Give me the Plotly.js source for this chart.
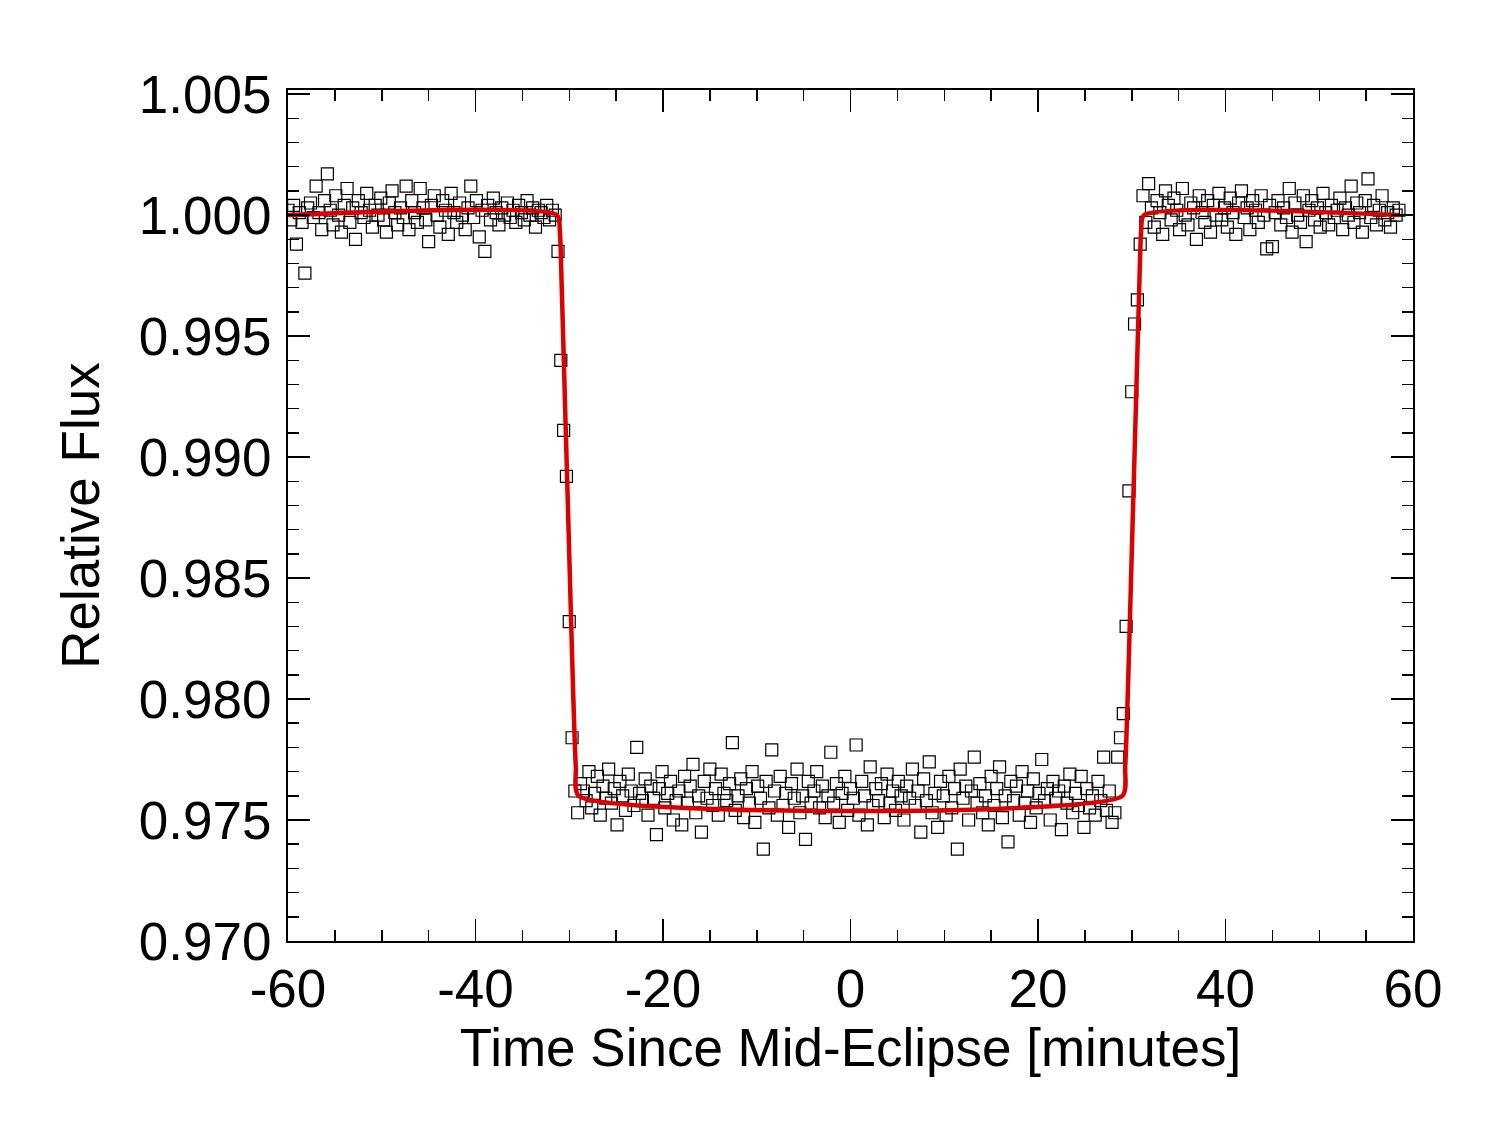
<!DOCTYPE html>
<html>
<head>
<meta charset="utf-8">
<script src="https://cdn.plot.ly/plotly-3.0.1.min.js"></script>
<style>html,body{margin:0;padding:0;background:#fff;}</style>
</head>
<body>
<div id="plot" style="width:1500px;height:1125px;"></div>
<script>
// Observation cadence (minutes) and first time stamp.
const startTime = -60;
const cadence = 0.3;

// Relative flux in units of 1e-4.
const fluxPre = [
    10002,9998,10004,9988,10001,9997,9976,10003,10005,9999,
    10012,10001,9994,10006,10017,10002,9996,10008,10000,9993,
    10004,10011,9997,10003,9990,10006,10001,9999,10009,10002,
    9995,10004,10000,10007,9998,9993,10005,10010,10001,9996,
    10003,9999,10012,9994,10006,10001,9997,10011,10003,9998,
    9989,10004,10008,10000,9995,10006,10002,9992,10009,10001,
    9997,10005,10000,9994,10003,10012,9999,10006,9991,10002,
    9985,10004,9998,10007,10001,9996,10003,10000,10005,9999,
    10002,9997,10004,10001,9998,10006,10000,10003,9995,10002,
    10001,9999,10004,9998,10002,10000
];
const fluxIngress = [9985,9940,9911,9892,9832,9784,9762];
const fluxIn = [
    9753,9765,9762,9758,9770,9755,9761,9768,9752,9764,9759,9771,
    9757,9763,9748,9766,9760,9754,9769,9762,9756,9780,9761,9758,
    9767,9752,9764,9759,9744,9763,9770,9755,9761,9766,9750,9758,
    9762,9748,9768,9757,9764,9773,9753,9760,9745,9766,9759,9771,
    9756,9763,9752,9769,9761,9758,9765,9782,9754,9760,9767,9751,
    9763,9757,9770,9749,9764,9759,9738,9766,9755,9779,9762,9752,
    9768,9756,9761,9747,9765,9759,9771,9753,9760,9742,9766,9757,
    9762,9770,9755,9764,9751,9760,9778,9757,9765,9749,9761,9768,
    9754,9763,9759,9781,9752,9766,9760,9748,9772,9756,9763,9758,
    9765,9751,9769,9757,9762,9754,9766,9760,9750,9764,9759,9771,
    9756,9762,9745,9767,9758,9774,9753,9761,9747,9766,9760,9752,
    9768,9755,9763,9738,9771,9759,9764,9750,9762,9776,9757,9765,
    9753,9760,9748,9768,9756,9763,9772,9751,9760,9741,9766,9758,
    9764,9752,9770,9757,9762,9749,9767,9755,9761,9775,9758,9763,
    9750,9766,9759,9762,9746,9764,9757,9769,9753,9761,9756,9768,
    9747,9763,9755,9760,9752,9766,9758,9776,9754,9762,9749,9753
];
const fluxEgress = [9776,9784,9794,9830,9886,9927,9955,9965,9988];
const fluxPost = [
    10008,9997,10013,10003,9995,10006,10001,9992,10010,10004,
    9998,10007,10002,9994,10011,10000,9996,10005,10003,9990,
    10008,10001,9997,10006,9993,10004,10000,10009,9998,10003,
    9995,10007,10001,9992,10005,10010,9999,10003,9994,10006,
    10002,9997,10008,10000,9986,10004,9987,10001,10006,9996,
    10003,9999,10011,9993,10005,10000,9997,10008,9989,10002,
    10006,9998,10003,9995,10009,10001,9996,10004,9999,10002,
    10007,9994,10003,10000,10012,9997,10005,10001,9993,10006,
    10015,9999,10004,9996,10002,10008,9998,10001,9995,10003,
    10000,10002
];

// Model light curve knots.
const modelTime = [-60, -31.3, -31.0, -30.8, -30.4, -30.0, -29.6, -29.3, -29.0, 29.0, 29.3, 29.6, 30.0, 30.4, 30.8, 31.0, 31.3, 58.5];
const modelFlux = [1, 1, 0.9993, 0.9970, 0.9915, 0.9860, 0.9805, 0.9772, 0.9760, 0.9760, 0.9772, 0.9805, 0.9860, 0.9915, 0.9970, 0.9993, 1, 1];

const xTicks = [-60, -40, -20, 0, 20, 40, 60];
const xTickText = ['-60', '-40', '-20', '0', '20', '40', '60'];
const yTicks = [0.970, 0.975, 0.980, 0.985, 0.990, 0.995, 1.000, 1.005];

const flux = [...fluxPre, ...fluxIngress, ...fluxIn, ...fluxEgress, ...fluxPost].map(v => v / 1e4);
const time = flux.map((_, i) => startTime + i * cadence);

const font = { family: 'Liberation Sans, Arial, sans-serif', color: 'black' };

const data = [
    {
        x: time, y: flux, type: 'scatter', mode: 'markers',
        marker: { symbol: 'square-open', size: 12, color: 'black', line: { width: 1.2 } },
    },
    {
        x: modelTime, y: modelFlux, type: 'scatter', mode: 'lines',
        line: { color: '#dd0000', width: 4.5, shape: 'spline', smoothing: 0.6 },
    },
];

const axisCommon = {
    showgrid: false, zeroline: false, showline: true, linecolor: 'black', linewidth: 2,
    mirror: 'allticks', ticks: 'inside', ticklen: 22, tickwidth: 1.5, tickcolor: 'black',
    tickfont: { ...font, size: 53 },
};

const layout = {
    width: 1500, height: 1125,
    margin: { l: 288, r: 87, t: 90, b: 184 },
    paper_bgcolor: 'white', plot_bgcolor: 'white',
    showlegend: false,
    font,
    xaxis: {
        ...axisCommon,
        range: [-60, 60], tickvals: xTicks, ticktext: xTickText,
        minor: { dtick: 5, ticks: 'inside', ticklen: 11, tickwidth: 1.5, tickcolor: 'black', showgrid: false },
        title: { text: 'Time Since Mid-Eclipse [minutes]', font: { ...font, size: 53 }, standoff: 12 },
    },
    yaxis: {
        ...axisCommon,
        range: [0.970, 1.00517], tickvals: yTicks, tickformat: '.3f', ticklabelstandoff: 4,
        minor: { dtick: 0.001, ticks: 'inside', ticklen: 11, tickwidth: 1.5, tickcolor: 'black', showgrid: false },
        title: { text: 'Relative Flux', font: { ...font, size: 53 }, standoff: 22 },
    },
};

Plotly.newPlot('plot', data, layout, { staticPlot: true });
</script>
</body>
</html>
